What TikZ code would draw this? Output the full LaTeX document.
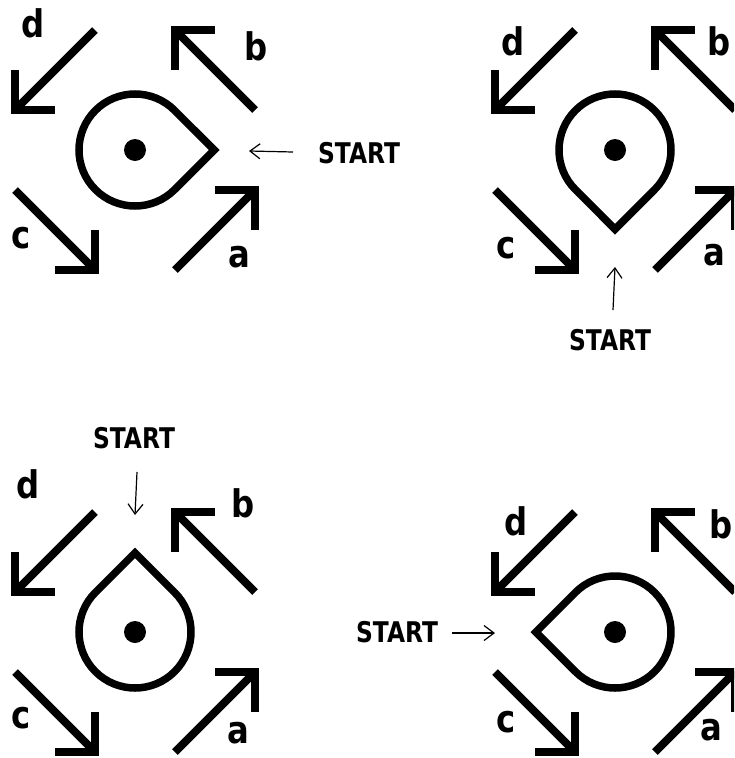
\documentclass[tikz,border=0pt]{standalone}
\usepackage{fontspec}
\newfontfamily\dvfont{DejaVu Sans}
\usetikzlibrary{arrows.meta,calc}
\tikzset{
  thickarrow/.style={line width=8pt, line join=miter, line cap=butt},
  dropline/.style={line width=7.5pt, line join=miter},
  lbl/.style={font=\dvfont\bfseries\fontsize{38}{40}\selectfont, anchor=base, inner sep=0pt},
  starttxt/.style={font=\dvfont\bfseries\fontsize{28.5}{30}\selectfont, anchor=base, inner sep=0pt},
  ptr/.style={line width=1.2pt, -{Straight Barb[length=10pt,width=15pt]}},
}
\newcommand\fourarrows{%
  % a
  \draw[thickarrow] (40,120) -- (120,40);
  \draw[thickarrow] (80,40) -- (120,40) -- (120,80);
  % b
  \draw[thickarrow] (120,-40) -- (40,-120);
  \draw[thickarrow] (80,-120) -- (40,-120) -- (40,-80);
  % d
  \draw[thickarrow] (-40,-120) -- (-120,-40);
  \draw[thickarrow] (-120,-80) -- (-120,-40) -- (-80,-40);
  % c
  \draw[thickarrow] (-120,40) -- (-40,120);
  \draw[thickarrow] (-80,120) -- (-40,120) -- (-40,80);
}
\newcommand\teardrop[1]{%
  \draw[dropline] (#1:79.2) -- (#1+45:56) arc[start angle=#1+45, delta angle=270, radius=56] -- cycle;
  \fill (0,0) circle[radius=11];
}
\newcommand\startlbl{\scalebox{0.82}[1]{START}}
\newcommand\ltr[1]{\scalebox{0.85}[1]{#1}}
\begin{document}
\begin{tikzpicture}[x=1pt,y=-1pt]
\clip (0,0) rectangle (734,758);
\fill[white] (0,0) rectangle (734,758);

% Panel 1 (top left)
\begin{scope}[shift={(135,150)}]
  \fourarrows
  \teardrop{0}
\end{scope}
\node[lbl] (p1d) at (33,37) {\ltr{d}};
\node[lbl] (p1b) at (256,60) {\ltr{b}};
\node[lbl] (p1c) at (21,248) {\ltr{c}};
\node[lbl] (p1a) at (239,267) {\ltr{a}};
\node[starttxt] (s1) at (359,163) {\startlbl};
\coordinate (s1a) at (293,152);
\coordinate (s1b) at (249,151);
\draw[ptr] (s1a) -- (s1b);

% Panel 2 (top right)
\begin{scope}[shift={(615,150)}]
  \fourarrows
  \teardrop{90}
\end{scope}
\node[lbl] (p2d) at (513,55) {\ltr{d}};
\node[lbl] (p2b) at (719,55) {\ltr{b}};
\node[lbl] (p2c) at (506,258) {\ltr{c}};
\node[lbl] (p2a) at (714,265) {\ltr{a}};
\node[starttxt] (s2) at (610,350) {\startlbl};
\coordinate (s2a) at (613,310);
\coordinate (s2b) at (615,267);
\draw[ptr] (s2a) -- (s2b);

% Panel 3 (bottom left)
\begin{scope}[shift={(135,632)}]
  \fourarrows
  \teardrop{-90}
\end{scope}
\node[lbl] (p3d) at (28,498) {\ltr{d}};
\node[lbl] (p3b) at (243,517) {\ltr{b}};
\node[lbl] (p3c) at (21,728) {\ltr{c}};
\node[lbl] (p3a) at (238,743) {\ltr{a}};
\node[starttxt] (s3) at (134,448) {\startlbl};
\coordinate (s3a) at (137,472);
\coordinate (s3b) at (135,515);
\draw[ptr] (s3a) -- (s3b);

% Panel 4 (bottom right)
\begin{scope}[shift={(615,632)}]
  \fourarrows
  \teardrop{180}
\end{scope}
\node[lbl] (p4d) at (516,535) {\ltr{d}};
\node[lbl] (p4b) at (721,538) {\ltr{b}};
\node[lbl] (p4c) at (506,732) {\ltr{c}};
\node[lbl] (p4a) at (711,740) {\ltr{a}};
\node[starttxt] (s4) at (397,642) {\startlbl};
\coordinate (s4a) at (452,633);
\coordinate (s4b) at (495,633);
\draw[ptr] (s4a) -- (s4b);
\end{tikzpicture}
\end{document}
